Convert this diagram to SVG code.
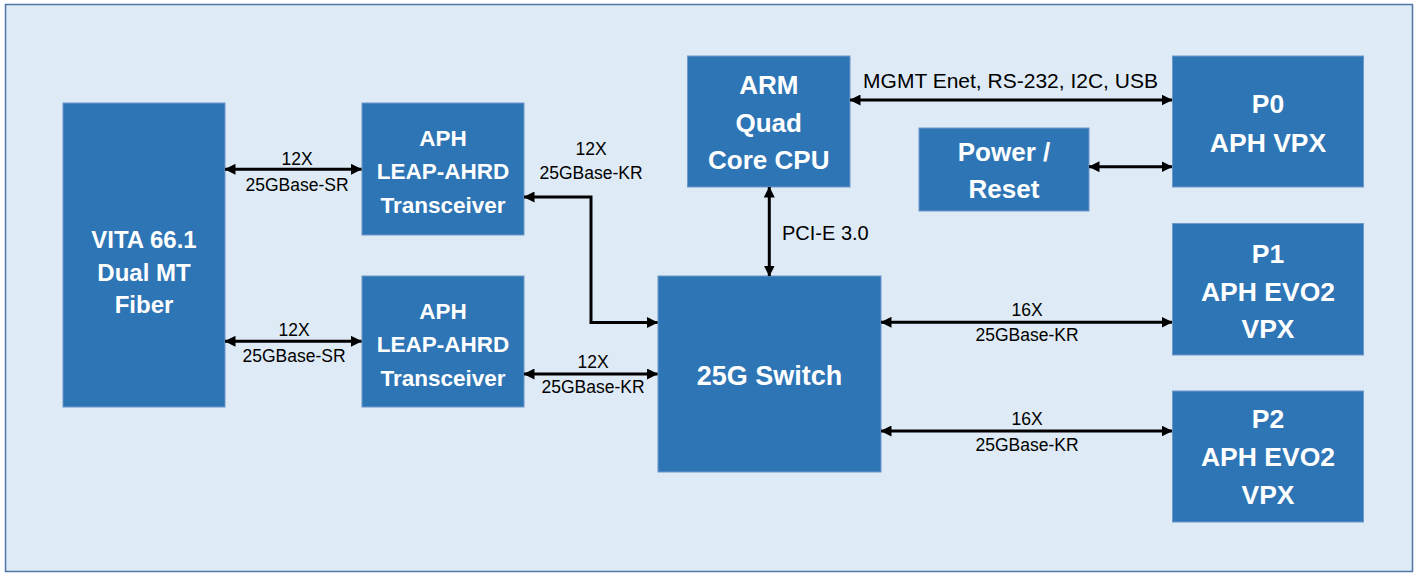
<svg xmlns="http://www.w3.org/2000/svg" width="1419" height="575" viewBox="0 0 1419 575">
<defs>
<marker id="ah" viewBox="0 0 11 11" refX="10.5" refY="5.5" markerWidth="11" markerHeight="11" markerUnits="userSpaceOnUse" orient="auto-start-reverse">
<path d="M0,0 L11,5.5 L0,11 Z" fill="#000"/>
</marker>
<style>
.frame{fill:#DEEAF6;stroke:#4F76A6;stroke-width:1.5}
.box{fill:#2E75B6;stroke:#6E98C8;stroke-width:1}
.bt{font-family:"Liberation Sans",Arial,sans-serif;font-weight:bold;fill:#fff;text-anchor:middle}
.lb{font-family:"Liberation Sans",Arial,sans-serif;fill:#000;text-anchor:middle;font-size:17.5px}
.lbl{font-family:"Liberation Sans",Arial,sans-serif;fill:#000}
.cn{fill:none;stroke:#000;stroke-width:3;marker-start:url(#ah);marker-end:url(#ah)}
</style>
</defs>
<rect class="frame" x="5.5" y="4.5" width="1407" height="567"/>

<g id="vita">
<rect class="box" x="63" y="103" width="162" height="304"/>
<text class="bt" font-size="24" x="144" y="248">VITA 66.1</text>
<text class="bt" font-size="24" x="144" y="280.5">Dual MT</text>
<text class="bt" font-size="24" x="144" y="313">Fiber</text>
</g>
<g id="trx1">
<rect class="box" x="362" y="103" width="162" height="132"/>
<text class="bt" font-size="22.5" x="443" y="145.5">APH</text>
<text class="bt" font-size="22.5" x="443" y="179">LEAP-AHRD</text>
<text class="bt" font-size="22.5" x="443" y="212.5">Transceiver</text>
</g>
<g id="trx2">
<rect class="box" x="362" y="276" width="162" height="131"/>
<text class="bt" font-size="22.5" x="443" y="318.5">APH</text>
<text class="bt" font-size="22.5" x="443" y="352">LEAP-AHRD</text>
<text class="bt" font-size="22.5" x="443" y="385.5">Transceiver</text>
</g>
<g id="arm">
<rect class="box" x="687.5" y="56" width="162.5" height="131"/>
<text class="bt" font-size="26" x="768.75" y="94.3">ARM</text>
<text class="bt" font-size="26" x="768.75" y="131.7">Quad</text>
<text class="bt" font-size="26" x="768.75" y="169.3">Core CPU</text>
</g>
<g id="power">
<rect class="box" x="919" y="128" width="170" height="83"/>
<text class="bt" font-size="26" x="1004" y="161">Power /</text>
<text class="bt" font-size="26" x="1004" y="198.3">Reset</text>
</g>
<g id="switch">
<rect class="box" x="658" y="276" width="223" height="196"/>
<text class="bt" font-size="27" x="769.5" y="385">25G Switch</text>
</g>
<g id="p0">
<rect class="box" x="1172.5" y="56" width="191" height="131"/>
<text class="bt" font-size="26.5" x="1268" y="113.3">P0</text>
<text class="bt" font-size="26.5" x="1268" y="151.7">APH VPX</text>
</g>
<g id="p1">
<rect class="box" x="1172.5" y="223.5" width="191" height="131.5"/>
<text class="bt" font-size="26.5" x="1268" y="262.7">P1</text>
<text class="bt" font-size="26.5" x="1268" y="300.7">APH EVO2</text>
<text class="bt" font-size="26.5" x="1268" y="338.3">VPX</text>
</g>
<g id="p2">
<rect class="box" x="1172.5" y="391" width="191" height="131"/>
<text class="bt" font-size="26.5" x="1268" y="428.3">P2</text>
<text class="bt" font-size="26.5" x="1268" y="466">APH EVO2</text>
<text class="bt" font-size="26.5" x="1268" y="504">VPX</text>
</g>

<g id="connectors">
<path class="cn" d="M225,169.3 H361.5"/>
<path class="cn" d="M225,341.3 H361.5"/>
<path class="cn" d="M524,197 H591 V322.5 H657.5"/>
<path class="cn" d="M524,374 H657.5"/>
<path class="cn" d="M769.3,187 V276"/>
<path class="cn" d="M850,100 H1172"/>
<path class="cn" d="M1089,166.7 H1172"/>
<path class="cn" d="M881,322.3 H1172"/>
<path class="cn" d="M881,431 H1172"/>
</g>
<g id="labels">
<text class="lb" x="297" y="165">12X</text>
<text class="lb" x="297" y="190.5">25GBase-SR</text>
<text class="lb" x="294" y="336">12X</text>
<text class="lb" x="294" y="362">25GBase-SR</text>
<text class="lb" x="591" y="155">12X</text>
<text class="lb" x="591" y="179.3">25GBase-KR</text>
<text class="lb" x="593" y="368">12X</text>
<text class="lb" x="593" y="393">25GBase-KR</text>
<text class="lb" x="1027" y="316">16X</text>
<text class="lb" x="1027" y="340.7">25GBase-KR</text>
<text class="lb" x="1027" y="425">16X</text>
<text class="lb" x="1027" y="450.5">25GBase-KR</text>
<text class="lbl" x="1010.5" y="88.3" font-size="21" text-anchor="middle">MGMT Enet, RS-232, I2C, USB</text>
<text class="lbl" x="782" y="240" font-size="20">PCI-E 3.0</text>
</g>
</svg>
